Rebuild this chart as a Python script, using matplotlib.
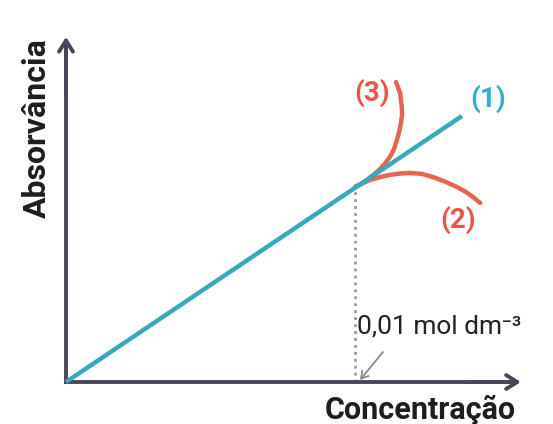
import matplotlib
matplotlib.use("Agg")
import matplotlib.pyplot as plt

plt.rcParams['font.family'] = ['Roboto', 'DejaVu Sans']

# Data (concentration in mol dm^-3, absorbance in relative units)
line1_x = [0.0, 0.0137]
line1_y = [0.0, 1.364]

curve3_x = [0.01000, 0.01021, 0.01042, 0.01065, 0.01087, 0.01105, 0.01121,
            0.01135, 0.01145, 0.01153, 0.01159, 0.01163, 0.01162, 0.01156, 0.01142]
curve3_y = [1.000, 1.015, 1.036, 1.064, 1.092, 1.123, 1.154,
            1.195, 1.241, 1.285, 1.328, 1.370, 1.410, 1.482, 1.538]

curve2_x = [0.01000, 0.01024, 0.01052, 0.01087, 0.01121, 0.01156, 0.01190,
            0.01232, 0.01270, 0.01311, 0.01353, 0.01381, 0.01408, 0.01433]
curve2_y = [1.000, 1.018, 1.036, 1.051, 1.062, 1.069, 1.072,
            1.067, 1.051, 1.028, 1.000, 0.977, 0.949, 0.918]

c_ref = 0.01
a_ref = 1.0

labels = {"(1)": (0.01460, 1.450), "(2)": (0.01356, 0.8308), "(3)": (0.01059, 1.482)}
label_colors = {"(1)": "#33AECB", "(2)": "#E8574A", "(3)": "#E8574A"}

teal = "#3AA9BD"
red = "#E66450"
axis_col = "#4A4558"

fig = plt.figure(figsize=(5.53, 4.24), dpi=100)
ax = fig.add_axes([0, 0, 1, 1])
ax.set_xlim(-0.0022837, 0.016851)
ax.set_ylim(-0.21538, 1.95897)
ax.axis('off')

# axes with arrows
ax.plot([0, 0], [-0.01, 1.755], color=axis_col, lw=2.8, solid_capstyle='butt', zorder=3)
ax.plot([-0.00003, 0.01565], [0, 0], color=axis_col, lw=2.8, solid_capstyle='butt', zorder=3)
ax.annotate("", xy=(0, 1.77), xytext=(0, 1.5),
            arrowprops=dict(arrowstyle="->,head_length=0.8,head_width=0.5",
                            lw=2.8, color=axis_col, shrinkA=0, shrinkB=0), zorder=3)
ax.annotate("", xy=(0.01574, 0), xytext=(0.0140, 0),
            arrowprops=dict(arrowstyle="->,head_length=0.8,head_width=0.5",
                            lw=2.8, color=axis_col, shrinkA=0, shrinkB=0), zorder=3)

# dotted guide
ax.plot([c_ref, c_ref], [0, a_ref], color="#9A9A9A", lw=2, ls=(0, (1, 1.5)), zorder=1)

# curves
ax.plot(curve3_x, curve3_y, color=red, lw=3.2, solid_capstyle='round',
        solid_joinstyle='round', zorder=2)
ax.plot(curve2_x, curve2_y, color=red, lw=3.2, solid_capstyle='round',
        solid_joinstyle='round', zorder=2)
ax.plot(line1_x, line1_y, color=teal, lw=3.2, solid_capstyle='butt', zorder=4)

for k, (x, y) in labels.items():
    ax.text(x, y, k, color=label_colors[k], fontsize=20, fontweight='bold',
            ha='center', va='center')

# annotation
ax.text(0.01007, 0.2821, "0,01 mol dm⁻³", fontsize=19, color="#222222",
        ha='left', va='center')
ax.annotate("", xy=(0.01017, 0.0103), xytext=(0.01097, 0.154),
            arrowprops=dict(arrowstyle="->,head_length=0.5,head_width=0.3",
                            lw=1.3, color="#8A8A8A", shrinkA=0, shrinkB=0))

ax.text(0.01225, -0.1436, "Concentração", fontsize=22, fontweight='bold',
        color="#1E1E1E", ha='center', va='center')
ax.text(-0.001003, 1.300, "Absorvância", fontsize=23, fontweight='bold',
        color="#1E1E1E", ha='center', va='center', rotation=90)

fig.savefig("out.png", dpi=100)
